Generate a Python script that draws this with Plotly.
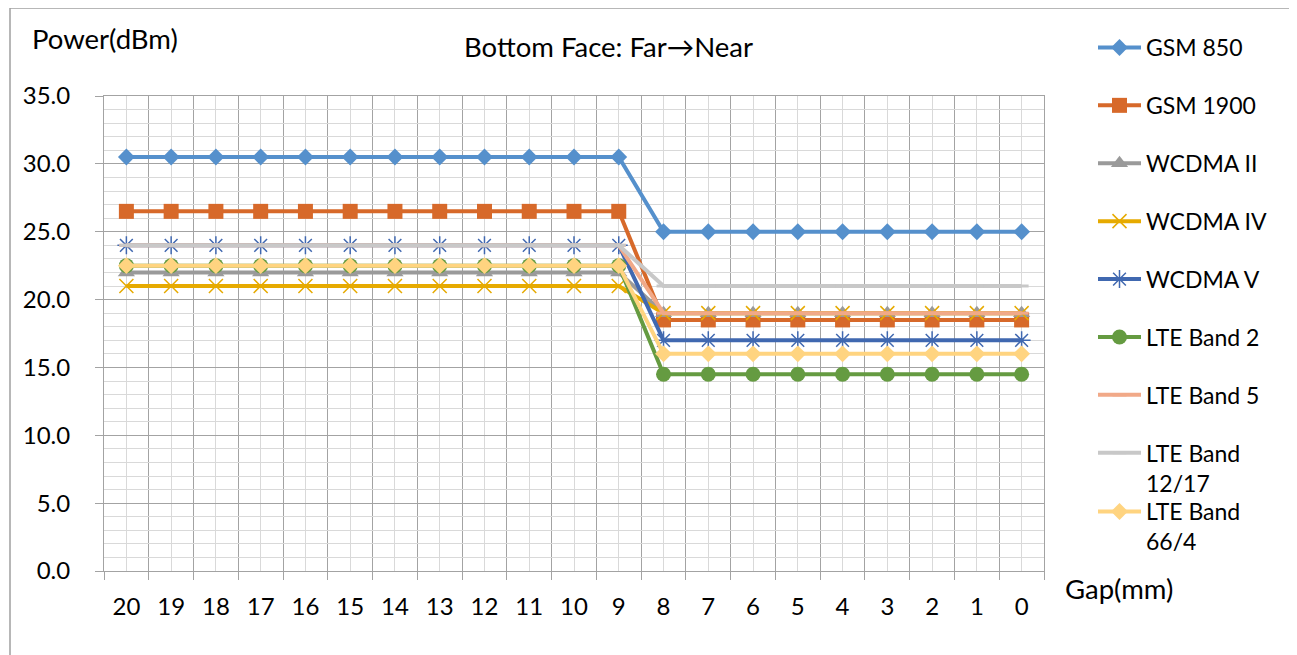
import plotly.graph_objects as go

gap_labels = ["20", "19", "18", "17", "16", "15", "14", "13", "12", "11", "10",
              "9", "8", "7", "6", "5", "4", "3", "2", "1", "0"]

gsm850 = [30.5] * 12 + [25.0] * 9
gsm1900 = [26.5] * 12 + [18.5] * 9
wcdma2 = [22.0] * 12 + [19.0] * 9
wcdma4 = [21.0] * 12 + [19.0] * 9
wcdma5 = [24.0] * 12 + [17.0] * 9
lte2 = [22.5] * 12 + [14.5] * 9
lte5 = [24.0] * 12 + [19.0] * 9
lte1217 = [24.0] * 12 + [21.0] * 9
lte664 = [22.5] * 12 + [16.0] * 9

series = [
    ("GSM 850", gsm850, "#5590CC", "diamond", 13, None),
    ("GSM 1900", gsm1900, "#D7692A", "square", 15, None),
    ("WCDMA II", wcdma2, "#9A9A9A", "triangle-up", 15, None),
    ("WCDMA IV", wcdma4, "#E6AA00", "x-thin-open", 14, 1.5),
    ("WCDMA V", wcdma5, "#4068B0", "asterisk-open", 15, 1.5),
    ("LTE Band 2", lte2, "#659B41", "circle", 15, None),
    ("LTE Band 5", lte5, "#F1A988", "line-ew-open", 10, 3),
    ("LTE Band<br>12/17", lte1217, "#C8C8C8", "line-ew-open", 10, 3),
    ("LTE Band<br>66/4", lte664, "#FFD480", "diamond", 13, None),
]

xs = list(range(len(gap_labels)))
FONT = "Lato, 'Noto Sans', sans-serif"
DARK = "#A3A3A3"
LIGHT = "#D9D9D9"
LEG_X = (1093 - 104) / 940

fig = go.Figure()
for i, (name, vals, color, sym, size, lw) in enumerate(series):
    marker = dict(symbol=sym, size=size, color=color)
    if lw is not None:
        marker["line"] = dict(color=color, width=lw)
    else:
        marker["line"] = dict(width=0)
    fig.add_trace(go.Scatter(
        x=xs, y=vals, name=name, mode="lines+markers",
        line=dict(color=color, width=4),
        marker=marker,
        legendgroup="g%d" % i,
        legend="legend2" if i == len(series) - 1 else "legend",
    ))

fig.update_layout(
    width=1289, height=647,
    margin=dict(l=96, r=253, t=88, b=84, autoexpand=False),
    paper_bgcolor="white", plot_bgcolor="white",
    font=dict(family=FONT, size=23, color="#000000"),
    showlegend=True,
    legend=dict(x=LEG_X, xanchor="left", y=(571 - 26) / 475, yanchor="top",
                tracegroupgap=25, valign="top", bgcolor="rgba(0,0,0,0)",
                itemwidth=43, maxheight=640,
                font=dict(family=FONT, size=23)),
    legend2=dict(x=LEG_X, xanchor="left", y=(571 - 490) / 475, yanchor="top",
                 valign="top", bgcolor="rgba(0,0,0,0)", itemwidth=43,
                 font=dict(family=FONT, size=23)),
    xaxis=dict(
        range=[-0.5, len(gap_labels) - 0.5],
        tickmode="array", tickvals=xs, ticktext=gap_labels,
        ticks="", showgrid=True, gridcolor=LIGHT, gridwidth=1,
        ticklabelstandoff=14, tickfont=dict(family=FONT, size=24),
        showline=True, linecolor=DARK, linewidth=1, mirror=True,
        zeroline=False,
        minor=dict(tickmode="linear", tick0=-0.5, dtick=1, ticks="outside", ticklen=8,
                   tickcolor=DARK, showgrid=True, gridcolor=DARK, gridwidth=1),
    ),
    yaxis=dict(
        range=[0, 35], tickmode="linear", tick0=0, dtick=5, tickformat=".1f",
        ticks="outside", ticklen=8, tickcolor=DARK,
        showgrid=True, gridcolor=DARK, gridwidth=1,
        ticklabelstandoff=20, tickfont=dict(family=FONT, size=24),
        showline=True, linecolor=DARK, linewidth=1, mirror=True,
        zeroline=False,
        minor=dict(dtick=1, showgrid=True, gridcolor=LIGHT, gridwidth=1),
    ),
    shapes=[dict(type="rect", xref="paper", yref="paper",
                 x0=(10 - 104) / 940, x1=1.4, y0=-0.3, y1=(571 - 8) / 475,
                 line=dict(color="#A0A0A0", width=1.5), fillcolor="rgba(0,0,0,0)",
                 layer="below")],
    annotations=[
        dict(text="Power(dBm)", xref="paper", yref="paper",
             x=(30 - 104) / 940, y=(571 - 38) / 475, xanchor="left", yanchor="middle",
             showarrow=False, font=dict(family=FONT, size=27.5)),
        dict(text="Bottom Face: Far→Near", xref="paper", yref="paper",
             x=(608 - 104) / 940, y=(571 - 47) / 475, xanchor="center", yanchor="middle",
             showarrow=False, font=dict(family=FONT, size=27.5)),
        dict(text="Gap(mm)", xref="paper", yref="paper",
             x=(1063 - 104) / 940, y=(571 - 588) / 475, xanchor="left", yanchor="middle",
             showarrow=False, font=dict(family=FONT, size=27.5)),
    ],
)

fig.write_html("out.html")
